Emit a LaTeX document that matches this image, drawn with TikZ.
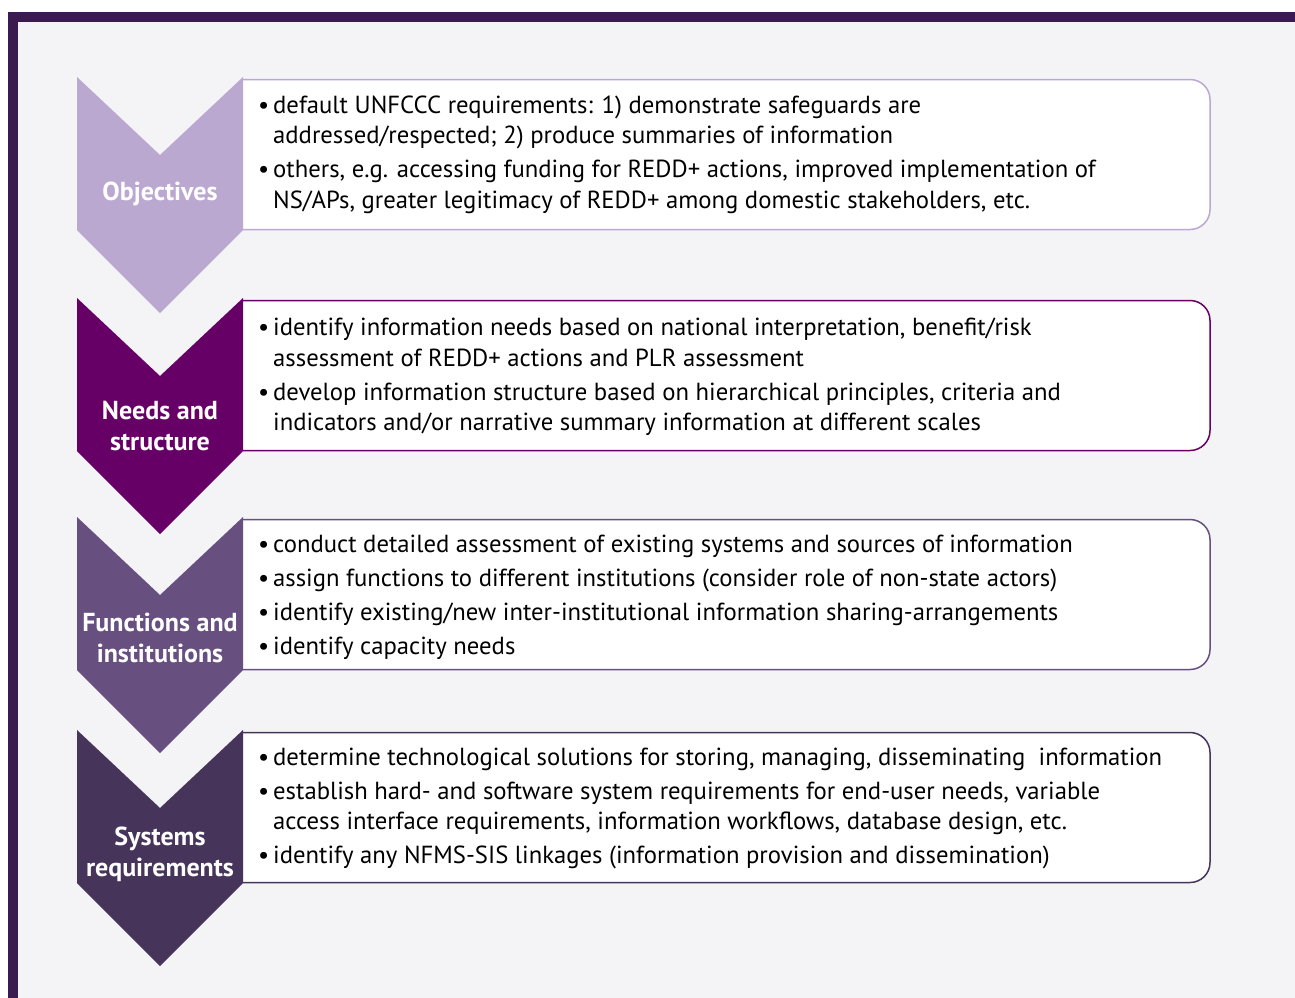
\documentclass[tikz,border=0pt]{standalone}
\usepackage{fontspec}
\setmainfont{PT Sans}
\definecolor{frame}{HTML}{3B1A4F}
\definecolor{bg}{HTML}{F4F4F7}
\definecolor{cA}{HTML}{BAA8D1}
\definecolor{cB}{HTML}{660066}
\definecolor{cC}{HTML}{674F80}
\definecolor{cD}{HTML}{46345A}
\tikzset{
  txt/.style={anchor=base west, inner sep=0pt, text=black, font=\fontsize{24.7}{28}\selectfont},
  lab/.style={align=center, inner sep=0pt, text=white, font=\bfseries\fontsize{26}{31}\selectfont},
  boxline/.style={line width=1.5pt, fill=white},
}
\newcommand{\bul}{\makebox[15pt][l]{•}}
\begin{document}
\begin{tikzpicture}[x=1pt,y=-1pt]
\useasboundingbox (0,0) rectangle (1295,998);
\fill[white] (0,0) rectangle (1295,998);
\fill[frame] (8,12) rectangle (1295,998);
\fill[bg] (18,22) rectangle (1295,998);

% boxes
\foreach \T/\c in {77/cA,298/cB,517/cC,730/cD}{
  \draw[boxline, draw=\c] (243,\T+2.5) -- (1190,\T+2.5) arc[start angle=-90,end angle=0,radius=20]
     -- (1210,\T+132.5) arc[start angle=0,end angle=90,radius=20] -- (243,\T+152.5);
  \fill[\c] (77,\T) -- (160,\T+78) -- (243,\T) -- (243,\T+153) -- (160,\T+236) -- (77,\T+153) -- cycle;
}

% labels
\node[lab] (lobj) at (160,194) {Objectives};
\node[lab] (lneed) at (160,426) {Needs and\\structure};
\node[lab] (lfun) at (160,637.5) {Functions and\\institutions};
\node[lab] (lsys) at (160,854) {Systems\\requirements};

% box 1
\node[txt] (o1) at (258,113) {\bul default UNFCCC requirements: 1) demonstrate safeguards are};
\node[txt] (o2) at (273,143) {addressed/respected; 2) produce summaries of information};
\node[txt] (o3) at (258,177) {\bul others, e.g. accessing funding for REDD+ actions, improved implementation of};
\node[txt] (o4) at (273,208) {NS/APs, greater legitimacy of REDD+ among domestic stakeholders, etc.};
% box 2
\node[txt] (n1) at (258,335) {\bul identify information needs based on national interpretation, benefit/risk};
\node[txt] (n2) at (273,366) {assessment of REDD+ actions and PLR assessment};
\node[txt] (n3) at (258,400) {\bul develop information structure based on hierarchical principles, criteria and};
\node[txt] (n4) at (273,430) {indicators and/or narrative summary information at different scales};
% box 3
\node[txt] (f1) at (258,552) {\bul conduct detailed assessment of existing systems and sources of information};
\node[txt] (f2) at (258,586) {\bul assign functions to different institutions (consider role of non-state actors)};
\node[txt] (f3) at (258,620) {\bul identify existing/new inter-institutional information sharing-arrangements};
\node[txt] (f4) at (258,654) {\bul identify capacity needs};
% box 4
\node[txt] (s1) at (258,765) {\bul determine technological solutions for storing, managing, disseminating\ \ information};
\node[txt] (s2) at (258,799) {\bul establish hard- and software system requirements for end-user needs, variable};
\node[txt] (s3) at (273,829) {access interface requirements, information workflows, database design, etc.};
\node[txt] (s4) at (258,863) {\bul identify any NFMS-SIS linkages (information provision and dissemination)};
\end{tikzpicture}
\end{document}
